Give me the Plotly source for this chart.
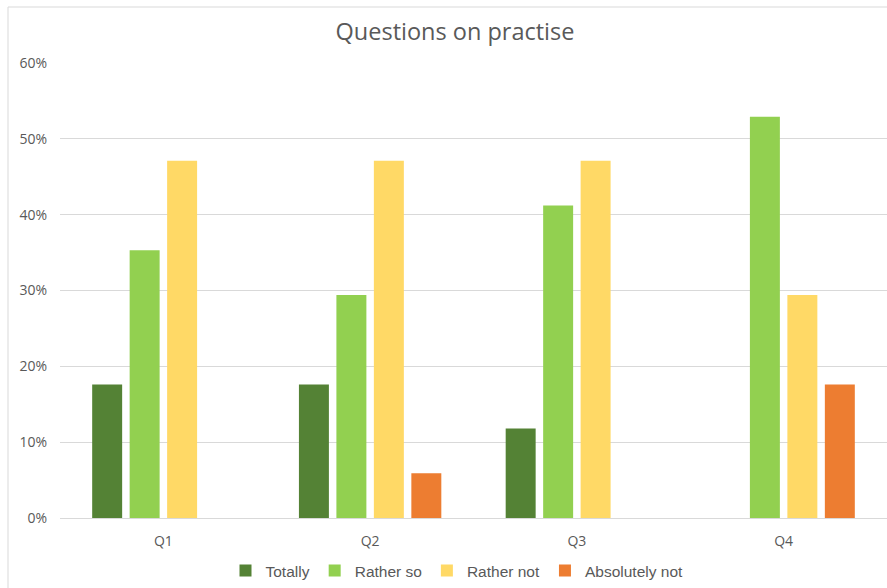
import plotly.graph_objects as go

categories = ["Q1", "Q2", "Q3", "Q4"]
series_names = ["Totally", "Rather so", "Rather not", "Absolutely not"]
totally = [0.176, 0.176, 0.118, 0.0]
rather_so = [0.353, 0.294, 0.412, 0.529]
rather_not = [0.471, 0.471, 0.471, 0.294]
absolutely_not = [0.0, 0.059, 0.0, 0.176]
colors = ["#548235", "#92D050", "#FFD966", "#ED7D31"]

fig = go.Figure()
for name, vals, col in zip(series_names, [totally, rather_so, rather_not, absolutely_not], colors):
    fig.add_trace(go.Bar(name=name, x=categories, y=vals, marker_color=col,
                         marker_line_width=0))

W, H = 887, 588
ml, mr, mt, mb = 60, 0, 63, 70
pw = W - ml - mr
ph = H - mt - mb

fig.update_layout(
    width=W, height=H,
    margin=dict(l=ml, r=mr, t=mt, b=mb),
    paper_bgcolor="white", plot_bgcolor="white",
    barmode="group", bargap=0.275, bargroupgap=0.2,
    title=dict(text="Questions on practise", x=455 / W, xref="container", xanchor="center",
               y=1 - 32 / H, yref="container", yanchor="middle",
               font=dict(family="Open Sans", size=23.5, color="#595959")),
    legend=dict(orientation="h", x=(457 - ml) / pw, xanchor="center",
                y=-(571 - (mt + ph)) / ph, yanchor="middle",
                font=dict(family="Liberation Sans", size=15.5, color="#595959"),
                itemwidth=30, traceorder="normal"),
    showlegend=True,
    font=dict(family="Open Sans", color="#595959"),
)
fig.update_yaxes(range=[0, 0.6], tickformat=".0%", dtick=0.1, showgrid=True,
                 gridcolor="#D9D9D9", gridwidth=1, zeroline=False,
                 tickfont=dict(family="Open Sans", size=14, color="#595959"),
                 ticklabelstandoff=12)
fig.update_xaxes(showline=True, linecolor="#D9D9D9", linewidth=1, showgrid=False,
                 tickfont=dict(family="Open Sans", size=14, color="#595959"),
                 ticklabelstandoff=10)

# chart border
fig.add_shape(type="rect", xref="paper", yref="paper",
              x0=(8 - ml) / pw, x1=1.2, y0=-0.5, y1=1 + (mt - 7) / ph,
              line=dict(color="#D9D9D9", width=1), fillcolor="rgba(0,0,0,0)", layer="below")

fig.write_html("out.html")
